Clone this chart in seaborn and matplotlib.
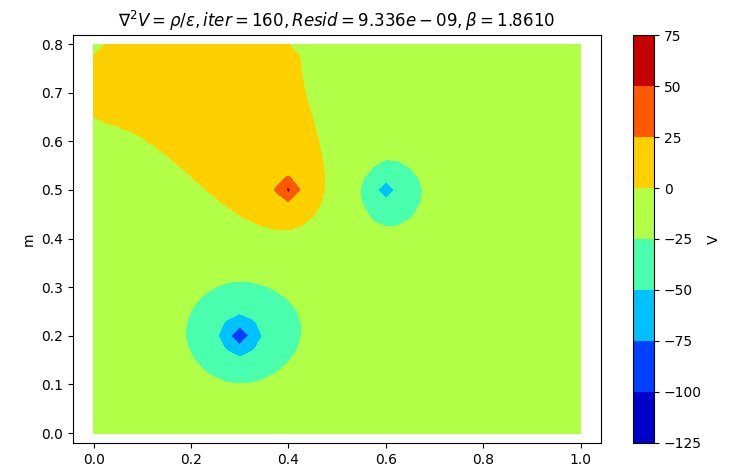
import numpy as np
import matplotlib
matplotlib.use("Agg")
import matplotlib.pyplot as plt
import seaborn as sns

# ---- data ----
charge_x = [0.4, 0.6, 0.3]          # m
charge_y = [0.5, 0.5, 0.2]          # m
charge_q = [111.43, -107.46, -163.77]  # source strength (grid units)
levels = [-125, -100, -75, -50, -25, 0, 25, 50, 75]
grid_h = 0.025
x_len, y_len = 1.0, 0.8
title = r'$\nabla^2 V = \rho/\varepsilon, iter = 160, Resid = 9.336e-09, \beta = 1.8610$'

sns.set_style("ticks", {'axes.edgecolor': 'black', 'xtick.color': 'black', 'ytick.color': 'black',
                        'axes.labelcolor': 'black', 'text.color': 'black'})
plt.rcParams['font.family'] = ['DejaVu Sans']

nx = int(round(x_len/grid_h)) + 1
ny = int(round(y_len/grid_h)) + 1
x = np.linspace(0, x_len, nx)
y = np.linspace(0, y_len, ny)

# source term on grid
S = np.zeros((ny, nx))
for cx, cy, q in zip(charge_x, charge_y, charge_q):
    S[int(round(cy/grid_h)), int(round(cx/grid_h))] += q

# SOR solution of the Poisson problem with V = 0 on the boundary
def sor(S, beta):
    V = np.zeros_like(S)
    I, J = np.meshgrid(np.arange(1, S.shape[0]-1), np.arange(1, S.shape[1]-1), indexing='ij')
    masks = [((I+J) % 2 == 0), ((I+J) % 2 == 1)]
    for _ in range(20000):
        mx = 0.0
        for m in masks:
            new = 0.25*(V[2:, 1:-1] + V[:-2, 1:-1] + V[1:-1, 2:] + V[1:-1, :-2] + S[1:-1, 1:-1])
            inner = V[1:-1, 1:-1]
            d = beta*(new - inner)
            inner[m] += d[m]
            mx = max(mx, np.abs(d[m]).max())
        if mx < 1e-10:
            break
    return V

V = sor(S, 1.861)

fig = plt.figure(figsize=(7.29, 4.70), dpi=100)
ax = fig.add_axes([0.0997, 0.0568, 0.7247, 0.8687])
cax = fig.add_axes([0.8687, 0.0580, 0.0284, 0.8670])
cs = ax.contourf(x, y, V, levels=levels, cmap='jet')
ax.set_xlim(-0.043, 1.042)
ax.set_ylim(-0.021, 0.8185)
ax.set_xticks([0.0, 0.2, 0.4, 0.6, 0.8, 1.0])
ax.set_yticks([0.0, 0.1, 0.2, 0.3, 0.4, 0.5, 0.6, 0.7, 0.8])
ax.set_ylabel('m')
ax.set_title(title)
cb = fig.colorbar(cs, cax=cax)
cb.set_label('V')
fig.savefig('out.png', dpi=100)
